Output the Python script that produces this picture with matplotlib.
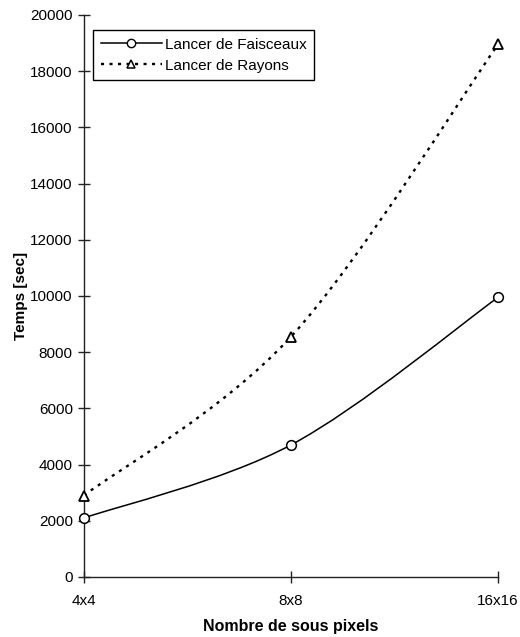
"""
Temps de calcul : lancer de faisceaux vs lancer de rayons.
"""
import matplotlib
matplotlib.use('Agg')
import numpy as np
from matplotlib import pyplot as plt
from matplotlib.lines import Line2D
from matplotlib.patches import PathPatch
from matplotlib.path import Path

categories = ['4x4', '8x8', '16x16']
faisceaux = [2100, 4700, 9950]
rayons = [2900, 8550, 18950]
y_ticks = [0, 2000, 4000, 6000, 8000, 10000, 12000, 14000, 16000, 18000, 20000]


def smooth_path(xs, ys):
    # Excel-like smoothed line: cubic Bezier segments with Catmull-Rom tangents
    pts = np.column_stack([xs, ys]).astype(float)
    n = len(pts)
    verts = [pts[0]]
    codes = [Path.MOVETO]
    for i in range(n - 1):
        p0 = pts[i - 1] if i > 0 else pts[i]
        p1 = pts[i]
        p2 = pts[i + 1]
        p3 = pts[i + 2] if i + 2 < n else pts[i + 1]
        c1 = p1 + (p2 - p0) / 6.0
        c2 = p2 - (p3 - p1) / 6.0
        verts += [c1, c2, p2]
        codes += [Path.CURVE4] * 3
    return Path(verts, codes)


def main():
    plt.rcParams['font.family'] = ['Liberation Sans', 'DejaVu Sans']

    fig = plt.figure(figsize=(5.2, 6.37), dpi=100)
    ax = fig.add_axes([0.1615, 0.0942, 0.7962, 0.8823])

    x = np.arange(len(categories))
    dots = (0, (1.3, 2.3))

    ax.add_patch(PathPatch(smooth_path(x, faisceaux), fill=False, edgecolor='black', lw=1.1, zorder=2))
    ax.add_patch(PathPatch(smooth_path(x, rayons), fill=False, edgecolor='black', lw=1.7,
                           linestyle=dots, zorder=2))
    ax.plot(x, faisceaux, ls='none', marker='o', ms=7, mfc='white', mec='black', mew=1.1, zorder=3,
            clip_on=False)
    ax.plot(x, rayons, ls='none', marker='^', ms=7.5, mfc='white', mec='black', mew=1.3, zorder=3,
            clip_on=False)

    ax.set_xlim(0, len(categories) - 1)
    ax.set_ylim(0, 20000)
    ax.set_xticks(x)
    ax.set_xticklabels(categories)
    ax.set_yticks(y_ticks)

    for side in ['top', 'right']:
        ax.spines[side].set_visible(False)
    for side in ['left', 'bottom']:
        ax.spines[side].set_linewidth(1.0)
        ax.spines[side].set_color('#222222')
    ax.tick_params(direction='inout', length=8, width=1.0, labelsize=11, color='#222222')
    ax.tick_params(axis='x', pad=8)
    ax.tick_params(axis='y', pad=4)

    ax.set_xlabel('Nombre de sous pixels', fontsize=11.5, fontweight='bold', labelpad=8)
    ax.set_ylabel('Temps [sec]', fontsize=11, fontweight='bold', labelpad=2)

    handles = [
        Line2D([], [], color='black', lw=1.1, marker='o', ms=6, mfc='white', mec='black', mew=1.0),
        Line2D([], [], color='black', lw=1.7, linestyle=dots, marker='^', ms=6, mfc='white', mec='black', mew=1.1),
    ]
    leg = ax.legend(handles, ['Lancer de Faisceaux', 'Lancer de Rayons'], loc='upper left',
                    bbox_to_anchor=(0.022, 0.973), fontsize=11, handlelength=4.0,
                    fancybox=False, framealpha=1, edgecolor='black', borderpad=0.5,
                    labelspacing=0.45, handletextpad=0.2, borderaxespad=0)
    leg.get_frame().set_linewidth(1.0)

    fig.savefig('out.png', dpi=100)


if __name__ == '__main__':
    main()
